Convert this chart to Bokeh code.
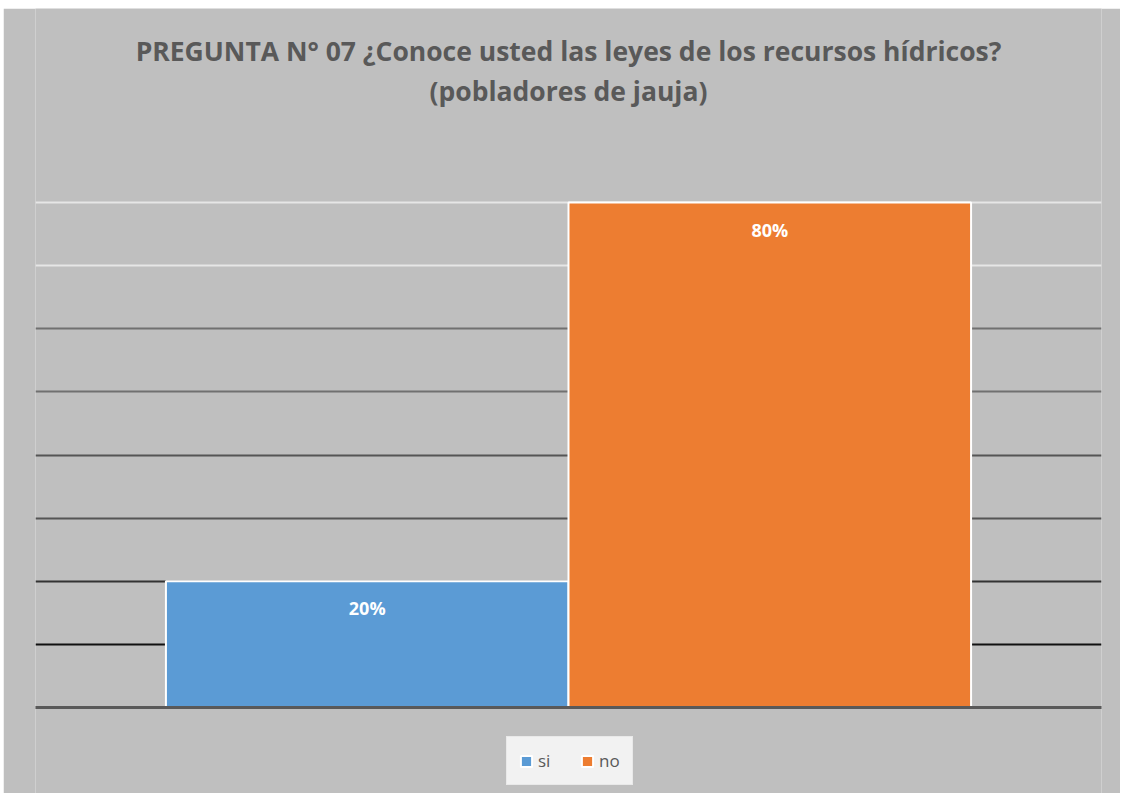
from bokeh.plotting import figure
from bokeh.models import (ColumnDataSource, Range1d, Label, LabelSet,
                          Legend, LegendItem, Grid, FixedTicker)
from bokeh.core.properties import value
from bokeh.embed import file_html
from bokeh.resources import INLINE

categories = ["si", "no"]
values = [0.20, 0.80]
labels = ["20%", "80%"]
colors = ["#5B9BD5", "#ED7D31"]

title1 = "PREGUNTA N° 07 ¿Conoce usted las leyes de los recursos hídricos?"
title2 = "(pobladores de jauja)"

pos = list(range(len(categories)))
src = ColumnDataSource(dict(x=pos, cat=categories, val=values, lab=labels, col=colors))

FW, FH = 1066, 785
PLOT_TOP_PX, PLOT_BOTTOM_PX = 194, 699   # where 0.8 and 0 sit, from figure top
VMAX = 0.8
ppu = (PLOT_BOTTOM_PX - PLOT_TOP_PX) / VMAX
y_start = -(FH - PLOT_BOTTOM_PX) / ppu
y_end = VMAX + PLOT_TOP_PX / ppu

pad = 0.324
p = figure(width=1117, height=FH, frame_width=FW, frame_height=FH,
           output_backend="svg", toolbar_location=None,
           x_range=Range1d(-0.5 - pad, len(categories) - 0.5 + pad),
           y_range=Range1d(y_start, y_end), title=None,
           x_axis_location=None, y_axis_location=None,
           background_fill_color="#BFBFBF", border_fill_color="#BFBFBF",
           margin=(8, 0, 0, 3))
p.min_border_left = 32
p.min_border_right = 19
p.min_border_top = 0
p.min_border_bottom = 0
p.outline_line_color = None

for txt, dy in [(title1, 42), (title2, 82)]:
    p.add_layout(Label(x=FW / 2, y=FH - dy, x_units="screen", y_units="screen",
                       text=txt, text_align="center", text_baseline="middle",
                       text_font="Open Sans", text_font_style="bold",
                       text_font_size="26.5px", text_color="#595959"))

p.center = [c for c in p.center if not isinstance(c, Grid)]
grid_styles = [([0.7, 0.8], "#E6E6E6", 2), ([0.5, 0.6], "#707070", 2),
               ([0.3, 0.4], "#555555", 2), ([0.2], "#333333", 2), ([0.1], "#111111", 2)]
for ticks, c, w in grid_styles:
    g = Grid(dimension=1, ticker=FixedTicker(ticks=ticks), grid_line_color=c,
             grid_line_width=w)
    p.add_layout(g, "center")

r = p.vbar(x="x", top="val", width=1.0, source=src, fill_color="col",
           line_color="white", line_width=2)

base = Grid(dimension=1, ticker=FixedTicker(ticks=[0]), grid_line_color="#595959",
            grid_line_width=3, level="overlay")
p.add_layout(base, "center")

p.add_layout(LabelSet(x="x", y="val", text="lab", source=src, y_offset=-15,
                      text_align="center", text_baseline="top", text_color="white",
                      text_font=value("Open Sans"), text_font_style="bold",
                      text_font_size="18px"))

items = [LegendItem(label=categories[i], renderers=[r], index=i) for i in range(2)]
legend = Legend(items=items, orientation="horizontal", location=(471, 8),
                background_fill_color="#F2F2F2", background_fill_alpha=1,
                border_line_color="#E0E0E0", label_text_font="Open Sans",
                label_text_font_size="17px", label_text_color="#595959",
                glyph_width=14, glyph_height=14, spacing=22, padding=12,
                margin=0)
p.add_layout(legend, "center")

open("out.html", "w").write(file_html(p, INLINE))
